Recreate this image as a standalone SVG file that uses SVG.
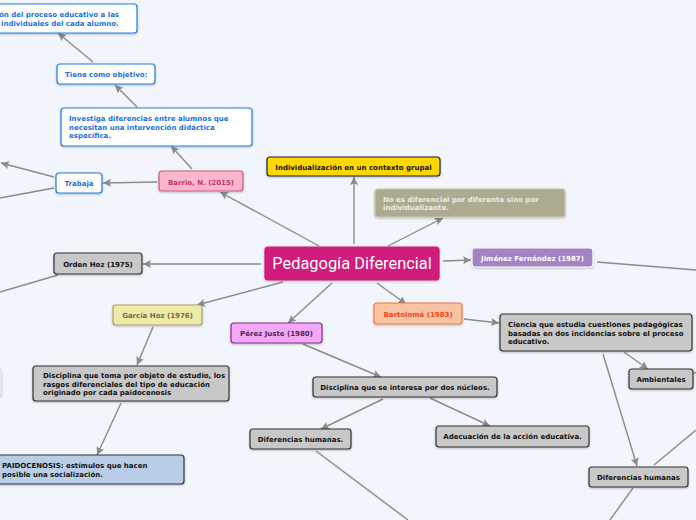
<svg xmlns="http://www.w3.org/2000/svg" width="696" height="520" viewBox="0 0 696 520">
<defs>
<marker id="ah" markerUnits="userSpaceOnUse" markerWidth="10" markerHeight="10" refX="8" refY="4" orient="auto">
<path d="M0,0 L8,4 L0,8 L1.5,4 z" fill="#8a8a8a"/>
</marker>
<filter id="sh" x="-10%" y="-20%" width="120%" height="160%">
<feDropShadow dx="0" dy="1" stdDeviation="0.8" flood-color="#000" flood-opacity="0.25"/>
</filter>
</defs>
<style>
.bg{fill:#f2f5fc}
.c line{stroke:#8a8a8a;stroke-width:1.4;fill:none}
.a{marker-end:url(#ah)}
rect.n{rx:3;ry:3;stroke-width:1.2;filter:url(#sh)}
.t{font-family:"DejaVu Sans","Verdana",sans-serif;font-weight:bold;font-size:7px}
.m{text-anchor:middle}
.blue rect{fill:#ffffff;stroke:#1f7fe0}
.blue text{fill:#1a73d8}
.gray rect{fill:#c8c8c8;stroke:#333333}
.gray text{fill:#111111}
</style>
<rect class="bg" x="0" y="0" width="696" height="520"/>

<g class="c" id="connectors">
<line class="a" x1="93" y1="62" x2="58" y2="33"/>
<line class="a" x1="137" y1="107" x2="115" y2="85"/>
<line class="a" x1="192" y1="169" x2="171" y2="146"/>
<line class="a" x1="157" y1="182" x2="103" y2="183"/>
<line class="a" x1="54" y1="177" x2="1" y2="163"/>
<line x1="54" y1="188" x2="0" y2="198"/>
<line class="a" x1="319" y1="246" x2="220" y2="192"/>
<line class="a" x1="354" y1="244" x2="354" y2="177"/>
<line class="a" x1="388" y1="246" x2="443" y2="218"/>
<line class="a" x1="443" y1="261" x2="471" y2="260"/>
<line x1="597" y1="262" x2="696" y2="270"/>
<line class="a" x1="377" y1="283" x2="406" y2="304"/>
<line class="a" x1="464" y1="319" x2="499" y2="323"/>
<line class="a" x1="624" y1="352" x2="648" y2="369"/>
<line x1="693" y1="374" x2="696" y2="372"/>
<line class="a" x1="603" y1="354" x2="637" y2="466"/>
<line x1="654" y1="465" x2="696" y2="430"/>
<line x1="633" y1="488" x2="610" y2="520"/>
<line class="a" x1="332" y1="283" x2="288" y2="323"/>
<line class="a" x1="303" y1="344" x2="381" y2="377"/>
<line class="a" x1="383" y1="399" x2="321" y2="429"/>
<line x1="316" y1="451" x2="408" y2="520"/>
<line class="a" x1="430" y1="398" x2="490" y2="426"/>
<line class="a" x1="261" y1="264" x2="143" y2="264"/>
<line x1="58" y1="275" x2="0" y2="292"/>
<line class="a" x1="283" y1="282" x2="197" y2="305"/>
<line class="a" x1="153" y1="327" x2="137" y2="365"/>
<line class="a" x1="121" y1="403" x2="97" y2="455"/>
</g>

<g id="n-objetivo-texto" class="blue">
<rect class="n" x="-20" y="4" width="157" height="29"/>
<text class="t" x="-1" y="17">ón del proceso educativo a las</text>
<text class="t" x="1" y="26">individuales del cada alumno.</text>
</g>
<g id="n-tiene" class="blue">
<rect class="n" x="57" y="64" width="98" height="20"/>
<text class="t" x="65" y="76.5">Tiene como objetivo:</text>
</g>
<g id="n-investiga" class="blue">
<rect class="n" x="61" y="108" width="191" height="38"/>
<text class="t" x="69" y="121">Investiga diferencias entre alumnos que</text>
<text class="t" x="69" y="129.5">necesitan una intervención didáctica</text>
<text class="t" x="69" y="138">específica.</text>
</g>
<g id="n-trabaja" class="blue">
<rect class="n" x="56" y="173" width="46" height="20"/>
<text class="t m" x="79" y="185.5">Trabaja</text>
</g>
<g id="n-barrio">
<rect class="n" x="159" y="171" width="84" height="20" fill="#f9b6cc" stroke="#d05a7e"/>
<text class="t m" x="201" y="185" fill="#c8346c">Barrio, N. (2015)</text>
</g>
<g id="n-central">
<rect class="n" x="265" y="247" width="174" height="33" fill="#d01a7b" stroke="#d01a7b"/>
<text x="352" y="268.5" text-anchor="middle" font-family="Roboto,'Noto Sans',sans-serif" font-size="16.4" fill="#ffffff">Pedagogía Diferencial</text>
</g>
<g id="n-individualizacion">
<rect class="n" x="267" y="157" width="173" height="19" fill="#ffd700" stroke="#222222"/>
<text class="t m" x="353.5" y="169.5" fill="#111111">Individualización en un contexto grupal</text>
</g>
<g id="n-noes">
<rect class="n" x="375" y="189" width="190" height="28" fill="#adab8f" stroke="#c8c6b0"/>
<text class="t" x="383" y="201.5" fill="#ebebe4">No es diferencial por diferente sino por</text>
<text class="t" x="383" y="210" fill="#ebebe4">individualizante.</text>
</g>
<g id="n-jimenez">
<rect class="n" x="472" y="248" width="121" height="19" fill="#a383c4" stroke="#ffffff"/>
<text class="t m" x="532.5" y="260.5" fill="#ffffff">Jiménez Fernández (1987)</text>
</g>
<g id="n-bartolome">
<rect class="n" x="374" y="303" width="88" height="21" fill="#f8c4a2" stroke="#f27a48"/>
<text class="t m" x="418" y="317" fill="#f0451a">Bartolomé (1983)</text>
</g>
<g id="n-ciencia" class="gray">
<rect class="n" x="500" y="314" width="192" height="37"/>
<text class="t" x="508" y="327">Ciencia que estudia cuestiones pedagógicas</text>
<text class="t" x="508" y="335.5">basadas en dos incidencias sobre el proceso</text>
<text class="t" x="508" y="344">educativo.</text>
</g>
<g id="n-ambientales" class="gray">
<rect class="n" x="629" y="369" width="64" height="20"/>
<text class="t m" x="661" y="381.5">Ambientales</text>
</g>
<g id="n-difhum-der" class="gray">
<rect class="n" x="589" y="467" width="99" height="20"/>
<text class="t m" x="638.5" y="479.5">Diferencias humanas</text>
</g>
<g id="n-perez">
<rect class="n" x="231" y="323" width="91" height="20" fill="#f1a9f7" stroke="#8a2a8c"/>
<text class="t m" x="276.5" y="335.5" fill="#5a1e60">Pérez Juste (1980)</text>
</g>
<g id="n-disciplina-nucleos" class="gray">
<rect class="n" x="313" y="377" width="184" height="20"/>
<text class="t m" x="405" y="389.5">Disciplina que se interesa por dos núcleos.</text>
</g>
<g id="n-difhum-izq" class="gray">
<rect class="n" x="250" y="429" width="101" height="20"/>
<text class="t m" x="300.5" y="441.5">Diferencias humanas.</text>
</g>
<g id="n-adecuacion" class="gray">
<rect class="n" x="436" y="426" width="153" height="21"/>
<text class="t m" x="512.5" y="438.5">Adecuación de la acción educativa.</text>
</g>
<g id="n-orden" class="gray">
<rect class="n" x="54" y="253" width="88" height="21"/>
<text class="t m" x="98" y="267">Orden Hoz (1975)</text>
</g>
<g id="n-garcia">
<rect class="n" x="113" y="305" width="89" height="20" fill="#eeeaa8" stroke="#aaa268"/>
<text class="t m" x="157.5" y="318" fill="#6e6a48">García Hoz (1976)</text>
</g>
<g id="n-disciplina-objeto" class="gray">
<rect class="n" x="33" y="366" width="196" height="35"/>
<text class="t" x="43" y="378" font-size="6.8">Disciplina que toma por objeto de estudio, los</text>
<text class="t" x="43" y="386.5" font-size="6.8">rasgos diferenciales del tipo de educación</text>
<text class="t" x="43" y="394.5" font-size="6.8">originado por cada paidocenosis</text>
</g>
<g id="n-paidocenosis">
<rect class="n" x="-20" y="455" width="204" height="29" fill="#b9cde9" stroke="#333333"/>
<text class="t" x="2" y="467.5" fill="#111111">PAIDOCENOSIS: estímulos que hacen</text>
<text class="t" x="2" y="476.5" fill="#111111">posible una socialización.</text>
</g>
<g id="n-left-edge">
<rect class="n" x="-20" y="368" width="21" height="28" fill="#ffffff" stroke="#d8dce4"/>
</g>
</svg>
